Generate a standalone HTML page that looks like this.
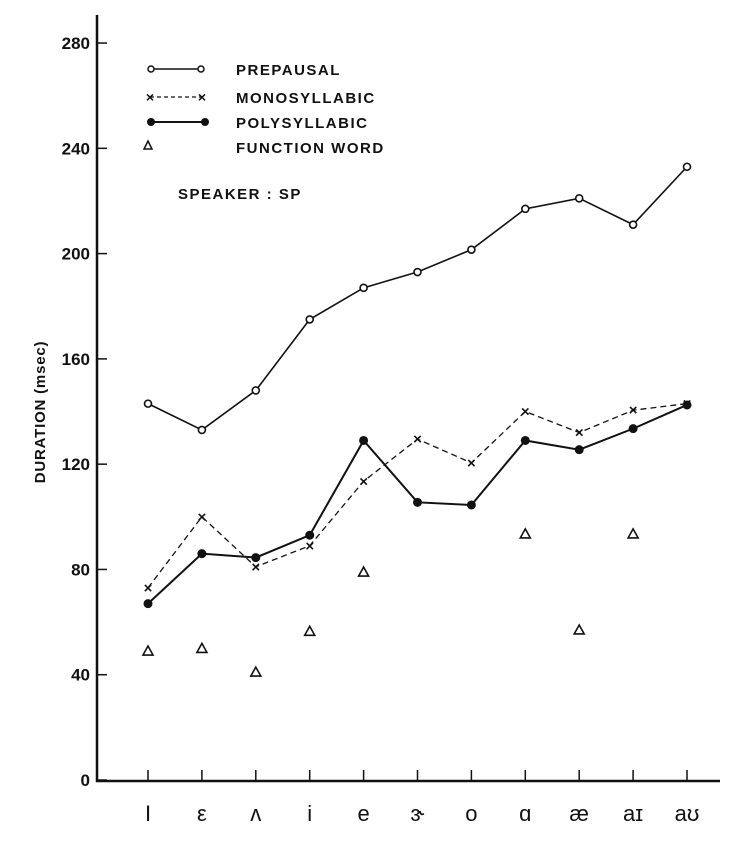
<!DOCTYPE html>
<html><head><meta charset="utf-8"><style>
body{margin:0;background:#fff;}
svg text{font-family:"Liberation Sans","DejaVu Sans",sans-serif;fill:#111;}
</style></head><body>
<svg width="733" height="837" viewBox="0 0 733 837">
<g id="axes"></g><g id="series"></g>
<g font-weight="bold" font-size="15" letter-spacing="1.5">
 <line x1="151" y1="69" x2="201" y2="69" stroke="#111" stroke-width="1.6"/>
 <circle cx="151" cy="69" r="3" fill="#fff" stroke="#111" stroke-width="1.5"/><circle cx="201" cy="69" r="3" fill="#fff" stroke="#111" stroke-width="1.5"/>
 <text x="236" y="75">PREPAUSAL</text>
 <line x1="150" y1="97" x2="202" y2="97" stroke="#111" stroke-width="1.3" stroke-dasharray="4,3"/>
 <text x="150" y="102" font-size="14" letter-spacing="0" text-anchor="middle">×</text><text x="202" y="102" font-size="14" letter-spacing="0" text-anchor="middle">×</text>
 <text x="236" y="103">MONOSYLLABIC</text>
 <line x1="151" y1="122" x2="205" y2="122" stroke="#111" stroke-width="2"/>
 <circle cx="151" cy="122" r="4" fill="#111"/><circle cx="205" cy="122" r="4" fill="#111"/>
 <text x="236" y="128">POLYSYLLABIC</text>
 <path d="M148,141 L152,149 L144,149 Z" fill="none" stroke="#111" stroke-width="1.5"/>
 <text x="236" y="153">FUNCTION WORD</text>
 <text x="178" y="199">SPEAKER : SP</text>
</g>
<text transform="translate(45,412) rotate(-90)" text-anchor="middle" font-size="15" font-weight="bold" letter-spacing="0.8">DURATION (msec)</text>
</svg>
<script>
const categories=["I","ε","ʌ","i","e","ɝ","o","ɑ","æ","aɪ","aʊ"];
const prepausal=[143,133,148,175,187,193,201.5,217,221,211,233];
const monosyllabic=[73,100,81,89,113.5,129.5,120.5,140,132,140.5,143];
const polysyllabic=[67,86,84.5,93,129,105.5,104.5,129,125.5,133.5,142.5];
const functionWord=[49,50,41,56.5,79,null,null,93.5,57,93.5,null];
const yTicks=[0,40,80,120,160,200,240,280];
const NS="http://www.w3.org/2000/svg";
const x=i=>148+i*53.9;
const y=v=>780-v*2.632;
function mk(t,a,p){const e=document.createElementNS(NS,t);for(const k in a)e.setAttribute(k,a[k]);p.appendChild(e);return e;}
const ax=document.getElementById('axes'), se=document.getElementById('series');
let l=mk('line',{x1:97,y1:15,x2:97,y2:782,stroke:'#111','stroke-width':2.5},ax);


l=mk('line',{x1:96,y1:781,x2:720,y2:781,stroke:'#111','stroke-width':2.5},ax);


yTicks.forEach(v=>{
 mk('line',{x1:97,y1:y(v),x2:107,y2:y(v),stroke:'#111','stroke-width':1.5},ax);
 const t=mk('text',{x:90,y:y(v)+6,'text-anchor':'end','font-size':17,'font-weight':'bold'},ax);
 t.textContent=v;
 
 
});
categories.forEach((c,i)=>{
 mk('line',{x1:x(i),y1:770,x2:x(i),y2:781,stroke:'#111','stroke-width':1.5},ax);
 const t=mk('text',{x:x(i),y:821,'text-anchor':'middle','font-size':22},ax);
 t.textContent=c;
 
 
});
function line(arr,name,dash,w){
 const p=mk('polyline',{points:arr.map((v,i)=>x(i)+','+y(v)).join(' '),fill:'none',stroke:'#111','stroke-width':w,'stroke-dasharray':dash||'none'},se);
 
 
}
line(prepausal,'prepausal-line','',1.6);
line(monosyllabic,'monosyllabic-line','6,4',1.3);
line(polysyllabic,'polysyllabic-line','',2);
prepausal.forEach((v,i)=>{const c=mk('circle',{cx:x(i),cy:y(v),r:3.5,fill:'#fff',stroke:'#111','stroke-width':1.6},se);
 
 });
monosyllabic.forEach((v,i)=>{const t=mk('text',{x:x(i),y:y(v)+5,'text-anchor':'middle','font-size':15,'font-weight':'bold'},se);t.textContent='×';
 
 });
polysyllabic.forEach((v,i)=>{const c=mk('circle',{cx:x(i),cy:y(v),r:4.5,fill:'#111'},se);
 
 });
functionWord.forEach((v,i)=>{if(v==null)return;const X=x(i),Y=y(v);
 const p=mk('path',{d:`M${X},${Y-5} L${X+5},${Y+4} L${X-5},${Y+4} Z`,fill:'none',stroke:'#111','stroke-width':1.6},se);
 
 });
</script>
</body></html>
